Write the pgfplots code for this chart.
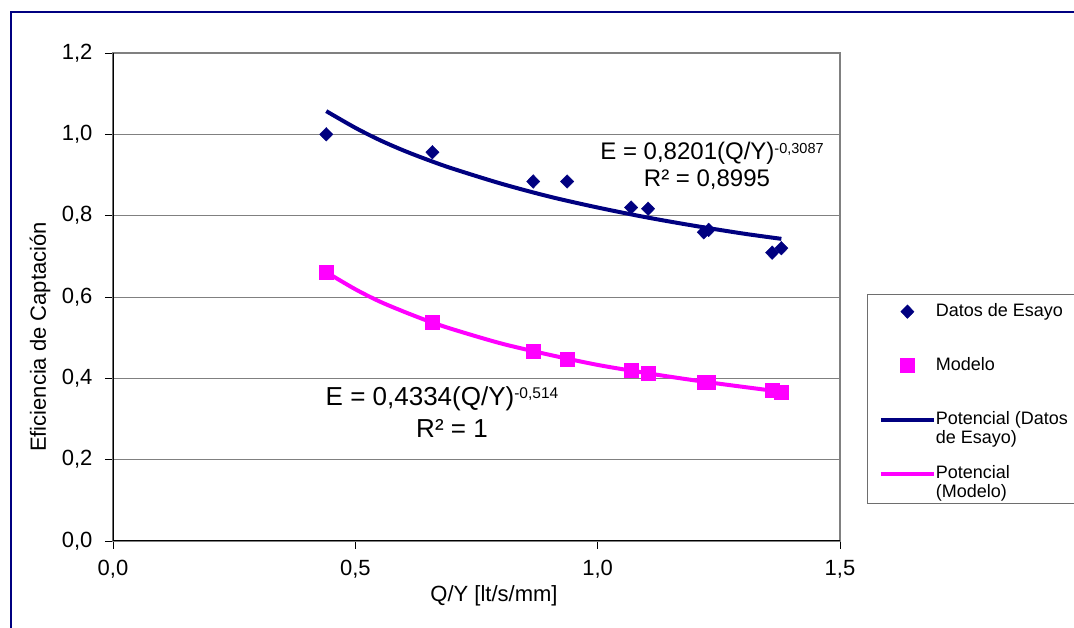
\documentclass[border=0pt]{standalone}
\usepackage{fontspec}
\setmainfont{Liberation Sans}
\usepackage{pgfplots}
\pgfplotsset{compat=1.18}
\definecolor{navy}{RGB}{0,0,128}
\definecolor{magen}{RGB}{255,0,255}
\definecolor{gridgray}{RGB}{128,128,128}
\definecolor{leggray}{RGB}{110,110,110}
\newcommand{\leg}[1]{\raisebox{0pt}[12pt][0pt]{#1}}
\newcommand{\legtwo}[2]{\raisebox{0pt}[12pt][0pt]{\vtop{\baselineskip=18.3pt\hbox{#1}\hbox{#2}}}}
\pgfplotsset{
  myleg/.style={legend image code/.code={%
    \pgfpathrectangle{\pgfpoint{0pt}{-7pt}}{\pgfpoint{53pt}{14pt}}\pgfusepath{use as bounding box}%
    \draw[mark repeat=2,mark phase=2,##1] plot coordinates {(0pt,0pt) (26.5pt,0pt) (53pt,0pt)};}}
}
\begin{document}
\begin{tikzpicture}[x=1pt,y=1pt]
\useasboundingbox (0,0) rectangle (1074,628);
% outer chart frame
\draw[navy, line width=1.5pt] (11,-5) -- (11,616) -- (1080,616);
% legend frame
\draw[leggray, line width=1pt] (1085,333) -- (867,333) -- (867,124) -- (1085,124);
\begin{axis}[
  at={(113pt,87pt)}, anchor=south west, scale only axis,
  width=727pt, height=488pt,
  xmin=0, xmax=1.5, ymin=0, ymax=1.2,
  xtick={0,0.5,1,1.5}, ytick={0,0.2,0.4,0.6,0.8,1,1.2},
  xtick pos=bottom, ytick pos=left, tick align=outside,
  major tick length=8pt,
  tick style={black, line width=0.8pt},
  ymajorgrids, grid style={gridgray, line width=0.8pt},
  axis line style={gridgray, line width=1.2pt},
  tick label style={font=\fontsize{22}{22}\selectfont},
  xticklabel style={yshift=-8pt},
  yticklabel style={xshift=-9pt},
  /pgf/number format/use comma,
  /pgf/number format/fixed,
  /pgf/number format/fixed zerofill,
  /pgf/number format/precision=1,
  /pgf/number format/assume math mode=true,
  legend cell align=left,
  legend style={at={(1.056,0.4883)}, anchor=north west, draw=none, fill=none,
    inner xsep=0pt, inner ysep=0pt, row sep=36.5pt, nodes={inner sep=2pt},
    font=\fontsize{18}{18.3}\selectfont},
]
% Datos de Esayo
\addplot[only marks, mark=diamond*, mark size=6.8pt, color=navy,
  mark options={xscale=1.3}, myleg] coordinates {
  (0.440,1.000) (0.659,0.956) (0.867,0.884) (0.937,0.884) (1.069,0.820)
  (1.104,0.817) (1.219,0.759) (1.229,0.765) (1.360,0.709) (1.379,0.720)};
\addlegendentry{\leg{Datos de Esayo}}
% Modelo
\addplot[only marks, mark=square*, mark size=7pt, color=magen,
  myleg] coordinates {
  (0.440,0.661) (0.659,0.537) (0.867,0.466) (0.937,0.448) (1.069,0.419)
  (1.104,0.412) (1.219,0.391) (1.229,0.390) (1.360,0.370) (1.379,0.367)};
\addlegendentry{\leg{Modelo}}
% Potencial (Datos de Esayo)
\addplot[navy, line width=4pt, smooth, no marks, myleg] coordinates {
  (0.44,1.057) (0.50,1.016) (0.55,0.986) (0.60,0.960) (0.65,0.937)
  (0.70,0.916) (0.80,0.879) (0.90,0.847) (1.00,0.820) (1.10,0.796)
  (1.20,0.775) (1.30,0.756) (1.379,0.743)};
\addlegendentry{\legtwo{Potencial (Datos}{de Esayo)}}
% Potencial (Modelo)
\addplot[magen, line width=4pt, smooth, no marks, myleg] coordinates {
  (0.44,0.661) (0.50,0.619) (0.55,0.589) (0.60,0.564) (0.65,0.541)
  (0.70,0.521) (0.80,0.486) (0.90,0.458) (1.00,0.433) (1.10,0.413)
  (1.20,0.395) (1.30,0.379) (1.379,0.367)};
\addlegendentry{\legtwo{Potencial}{(Modelo)}}
\draw[black, line width=1.3pt] (axis cs:0,1.2) -- (axis cs:0,0) -- (axis cs:1.5,0);
\end{axis}
% axis titles
\node[anchor=base, inner sep=0, font=\fontsize{22}{22}\selectfont] at (494,26) {Q/Y [lt/s/mm]};
\node[rotate=90, inner sep=0, font=\fontsize{22}{22}\selectfont] at (40,291) {Eficiencia de Captación};
% trend equations
\node[anchor=base, inner sep=0, font=\fontsize{24}{24}\selectfont] at (712,468)
  {E = 0,8201(Q/Y)\raisebox{6.5pt}{\fontsize{14.5}{14.5}\selectfont -0,3087}};
\node[anchor=base, inner sep=0, font=\fontsize{24}{24}\selectfont] at (707,441) {R² = 0,8995};
\node[anchor=base, inner sep=0, font=\fontsize{26}{26}\selectfont] at (442,222)
  {E = 0,4334(Q/Y)\raisebox{7pt}{\fontsize{15.5}{15.5}\selectfont -0,514}};
\node[anchor=base, inner sep=0, font=\fontsize{26}{26}\selectfont] at (452,190) {R² = 1};
\end{tikzpicture}
\end{document}
